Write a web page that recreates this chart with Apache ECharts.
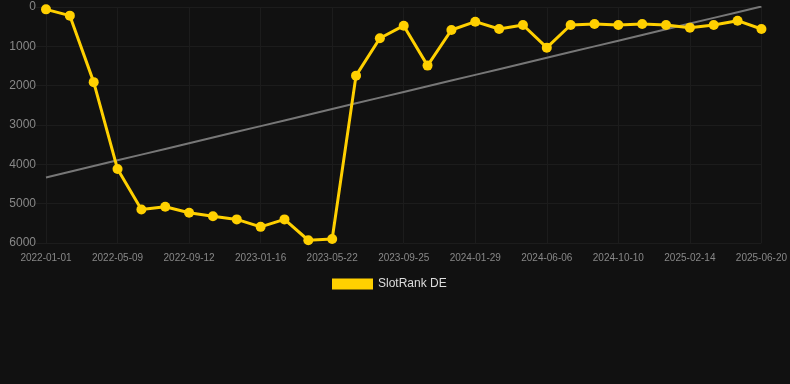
<!DOCTYPE html>
<html>
<head>
<meta charset="utf-8">
<script src="https://cdn.jsdelivr.net/npm/echarts@6/dist/echarts.min.js"></script>
<style>
html, body { margin: 0; padding: 0; background: #111111; }
#main { width: 790px; height: 384px; }
</style>
</head>
<body>
<div id="main"></div>
<script>
var dates = ['2022-01-01', '2022-02-12', '2022-03-26', '2022-05-09', '2022-06-20', '2022-08-01',
	'2022-09-12', '2022-10-24', '2022-12-05', '2023-01-16', '2023-02-27', '2023-04-10',
	'2023-05-22', '2023-07-03', '2023-08-14', '2023-09-25', '2023-11-06', '2023-12-18',
	'2024-01-29', '2024-03-11', '2024-04-22', '2024-06-06', '2024-07-18', '2024-08-29',
	'2024-10-10', '2024-11-21', '2025-01-02', '2025-02-14', '2025-03-28', '2025-05-09',
	'2025-06-20'];
var ranks = [60, 220, 1910, 4120, 5150, 5080, 5230, 5320, 5400, 5590, 5400, 5930,
	5900, 1745, 795, 475, 1490, 585, 373, 560, 457, 1033, 457, 432,
	457, 432, 457, 525, 457, 348, 560];

// linear trend over the index
function trendLine(vals) {
	var n = vals.length, sx = 0, sy = 0, sxy = 0, sxx = 0;
	for (var i = 0; i < n; i++) {
		sx += i; sy += vals[i]; sxy += i * vals[i]; sxx += i * i;
	}
	var k = (n * sxy - sx * sy) / (n * sxx - sx * sx);
	var b = (sy - k * sx) / n;
	var out = [];
	for (var j = 0; j < n; j++) out.push(k * j + b);
	return out;
}
var trend = trendLine(ranks);

var gridColor = '#1c1c1c';
var myChart = echarts.init(document.getElementById('main'));
var option = {
	backgroundColor: '#111111',
	animation: false,
	grid: {
		left: 46,
		right: 28,
		top: 7,
		bottom: 141
	},
	legend: {
		left: 327,
		bottom: 89,
		icon: 'rect',
		itemWidth: 41,
		itemHeight: 11,
		textStyle: { color: '#dddddd', fontSize: 12 },
		data: ['SlotRank DE']
	},
	xAxis: {
		type: 'category',
		boundaryGap: false,
		data: dates,
		axisLine: { show: false },
		axisTick: {
			show: true,
			interval: 2,
			length: 10,
			lineStyle: { color: gridColor }
		},
		axisLabel: {
			interval: 2,
			color: '#888888',
			fontSize: 10,
			margin: 10
		},
		splitLine: {
			show: true,
			interval: 2,
			lineStyle: { color: gridColor }
		}
	},
	yAxis: {
		type: 'value',
		inverse: true,
		min: 0,
		max: 6000,
		interval: 1000,
		axisLine: { show: false },
		axisTick: {
			show: true,
			length: 10,
			lineStyle: { color: gridColor }
		},
		axisLabel: {
			color: '#888888',
			fontSize: 12,
			margin: 10,
			formatter: function(v) { return String(v); }
		},
		splitLine: { lineStyle: { color: gridColor } }
	},
	series: [{
		name: 'SlotRank DE',
		type: 'line',
		data: ranks,
		symbol: 'circle',
		symbolSize: 10,
		itemStyle: { color: '#FFD000' },
		lineStyle: { color: '#FFD000', width: 3 },
		z: 3
	}, {
		name: 'trend',
		type: 'line',
		data: trend,
		symbol: 'none',
		silent: true,
		lineStyle: { color: '#777777', width: 2 },
		z: 2
	}]
};
myChart.setOption(option);
</script>
</body>
</html>
